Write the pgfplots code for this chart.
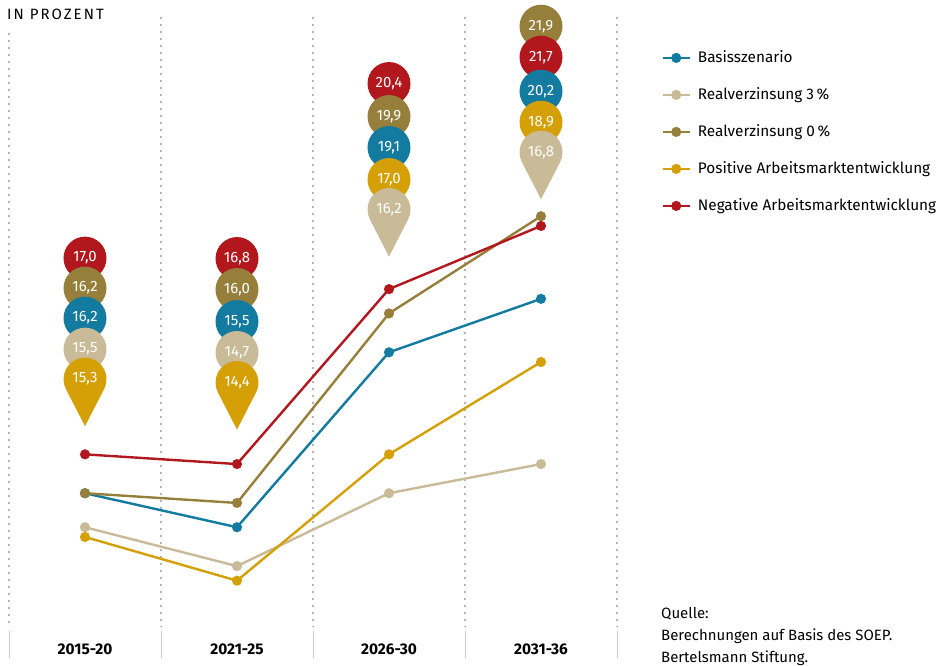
\documentclass[border=0pt]{standalone}
\usepackage{pgfplots}
\pgfplotsset{compat=1.18}
\usepackage{fontspec}
\setmainfont{Fira Sans}

\definecolor{cBasis}{HTML}{137AA0}
\definecolor{cReal3}{HTML}{C9BA98}
\definecolor{cReal0}{HTML}{957F3B}
\definecolor{cPos}{HTML}{D59F06}
\definecolor{cNeg}{HTML}{B2171D}
\definecolor{cGrid}{HTML}{B5B5B5}

\newcommand\bubblefont{\fontsize{15}{17}\selectfont}
% round value marker, centre #1 bp above the tip of the stack
\newcommand\bubble[3]{%
  \fill[#2] (0bp,#1bp) circle[radius=21.5bp];
  \node[text=white,font=\bubblefont,inner sep=0pt] at (0bp,#1bp) {#3};}
% pin-shaped marker whose tip sits at the origin of the scope
\newcommand\pin[2]{%
  \fill[#1] (0bp,0bp) -- ([shift={(0bp,47bp)}]-27.2:21.5bp)
     arc[start angle=-27.2,end angle=207.2,radius=21.5bp] -- cycle;
  \node[text=white,font=\bubblefont,inner sep=0pt] at (0bp,47bp) {#2};}

\begin{document}
\begin{tikzpicture}
\path (0bp,0bp) rectangle (946bp,663bp);
\begin{axis}[
  at={(9bp,24bp)}, anchor=south west,
  scale only axis, width=608bp, height=622bp,
  xmin=-0.5, xmax=3.5, ymin=13.2, ymax=26.0,
  clip=false,
  axis line style={draw=none},
  major tick length=0pt,
  ytick=\empty,
  xtick={0,1,2,3},
  xticklabels={2015-20,2021-25,2026-30,2031-36},
  xticklabel style={font=\fontsize{15.5}{17}\selectfont\bfseries, yshift=-1bp},
  legend cell align=left,
  legend style={draw=none, fill=none,
    at={(axis description cs:1.068,0.953)}, anchor=north west,
    font=\fontsize{15.4}{18}\selectfont,
    nodes={text height=12bp, text depth=3bp, inner sep=2bp},
    column sep=5bp,
    row sep=18bp},
  legend image code/.code={%
    \draw[line width=2.4bp] (0bp,0bp) -- (27bp,0bp);
    \fill (13.5bp,0bp) circle[radius=3.8bp];},
]
% category separators
\foreach \xs in {0.5,1.5,2.5,3.5} {
  \edef\temp{\noexpand\draw[cGrid, line width=1.2bp, dash pattern=on 2bp off 5bp]
     (axis cs:\xs,26.0) -- (axis cs:\xs,13.44);
   \noexpand\draw[cGrid!70, line width=0.8bp] (axis cs:\xs,13.36) -- (axis cs:\xs,12.80);}
  \temp
}
\draw[cGrid, line width=1.2bp, dash pattern=on 2bp off 5bp]
   (axis cs:-0.5,25.68) -- (axis cs:-0.5,13.44);
\draw[cGrid!70, line width=0.8bp] (axis cs:-0.5,13.36) -- (axis cs:-0.5,12.80);

\pgfplotsset{every axis plot/.append style={line width=2.4bp, mark=*,
  mark size=3.8bp, mark options={solid}}}
\addplot[cBasis, line width=2.4bp] coordinates {(0,16.2) (1,15.5) (2,19.1) (3,20.2)};
\addlegendentry{Basisszenario}
\addplot[cReal3, line width=2.4bp] coordinates {(0,15.5) (1,14.7) (2,16.2) (3,16.8)};
\addlegendentry{Realverzinsung 3\,\%}
\addplot[cReal0, line width=2.4bp] coordinates {(0,16.2) (1,16.0) (2,19.9) (3,21.9)};
\addlegendentry{Realverzinsung 0\,\%}
\addplot[cPos, line width=2.4bp] coordinates {(0,15.3) (1,14.4) (2,17.0) (3,18.9)};
\addlegendentry{Positive Arbeitsmarktentwicklung}
\addplot[cNeg, line width=2.4bp] coordinates {(0,17.0) (1,16.8) (2,20.4) (3,21.7)};
\addlegendentry{Negative Arbeitsmarktentwicklung}

% tips of the value stacks
\coordinate (t0) at (axis cs:0,17.58);
\coordinate (t1) at (axis cs:1,17.51);
\coordinate (t2) at (axis cs:2,21.07);
\coordinate (t3) at (axis cs:3,22.25);
\end{axis}

\begin{scope}[shift={(t0)}]
  \bubble{168}{cNeg}{17,0}
  \bubble{138}{cReal0}{16,2}
  \bubble{108}{cBasis}{16,2}
  \bubble{77}{cReal3}{15,5}
  \pin{cPos}{15,3}
\end{scope}
\begin{scope}[shift={(t1)}]
  \bubble{171}{cNeg}{16,8}
  \bubble{140}{cReal0}{16,0}
  \bubble{108}{cBasis}{15,5}
  \bubble{77}{cReal3}{14,7}
  \pin{cPos}{14,4}
\end{scope}
\begin{scope}[shift={(t2)}]
  \bubble{173}{cNeg}{20,4}
  \bubble{140}{cReal0}{19,9}
  \bubble{109}{cBasis}{19,1}
  \bubble{77}{cPos}{17,0}
  \pin{cReal3}{16,2}
\end{scope}
\begin{scope}[shift={(t3)}]
  \bubble{173}{cReal0}{21,9}
  \bubble{142}{cNeg}{21,7}
  \bubble{108}{cBasis}{20,2}
  \bubble{77}{cPos}{18,9}
  \pin{cReal3}{16,8}
\end{scope}

\node[anchor=base west, inner sep=0pt, font=\fontsize{15}{17}\selectfont]
  at (7bp,643bp) {\addfontfeature{LetterSpace=14}IN PROZENT};
\node[anchor=north west, align=left, inner sep=0pt, font=\fontsize{15}{22}\selectfont]
  at (661bp,56bp) {Quelle:\\Berechnungen auf Basis des SOEP.\\Bertelsmann Stiftung.};
\end{tikzpicture}
\end{document}
